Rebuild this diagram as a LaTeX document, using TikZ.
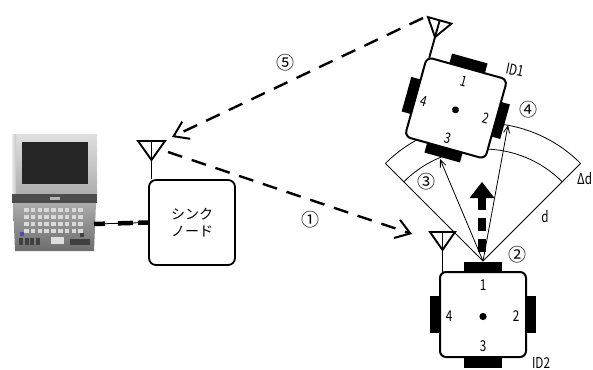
\documentclass[tikz,border=0pt]{standalone}
\usepackage{fontspec}
\usepackage{graphicx}
\setmainfont{Noto Sans CJK JP}
\usetikzlibrary{arrows.meta,calc}
\newcommand\nw[1]{\scalebox{0.78}[1]{#1}}

\tikzset{
  radio/.style={line width=2.4pt, dash pattern=on 15pt off 10pt,
    -{Straight Barb[length=14pt,width=19pt,line width=2pt]}},
  thinarrow/.style={line width=0.8pt, -{Straight Barb[length=7pt,width=6pt,line width=0.8pt]}},
  numlabel/.style={font=\fontsize{15}{15}\selectfont, inner sep=0pt},
  circled/.style={font=\fontsize{18}{18}\selectfont, inner sep=0pt},
  antenna/.style={line width=1.9pt, line join=miter},
  robot/.pic={
    % antenna on the top-left corner
    \draw[antenna] (-40.5,-42.5) -- (-40.5,-82.5);
    \draw[antenna] (-53,-82.5) -- (-28,-82.5) -- (-40.5,-64.5) -- cycle;
    % four sensor bars
    \fill (-19,-53) rectangle (19,-42.5);
    \fill (-19,42.5) rectangle (19,53);
    \fill (-53,-18.5) rectangle (-43,18.5);
    \fill (43,-18.5) rectangle (52.5,18.5);
    % body
    \draw[line width=2pt, fill=white, rounded corners=6pt] (-43,-42.5) rectangle (43,42.5);
    \fill (0,2) circle (3.6);
    \node[numlabel] (-s1) at (0,-29) {\nw{1}};
    \node[numlabel] (-s2) at (33,2) {\nw{2}};
    \node[numlabel] (-s3) at (0,32) {\nw{3}};
    \node[numlabel] (-s4) at (-34,2) {\nw{4}};
  }
}

\begin{document}
\begin{tikzpicture}[x=1pt,y=-1pt]
\useasboundingbox (0,0) rectangle (593,369);

% ---------- laptop ----------
\shade[top color=gray!25, bottom color=gray!65] (12,134) rectangle (97,196);
\shade[left color=gray!15, right color=gray!45] (12,134) rectangle (16,196);
\fill[black!85] (22,142) rectangle (88,184);
\fill[black!70] (12,194) rectangle (97,203);
\fill[gray!60] (50,197) rectangle (60,200);
\shade[top color=gray!65, bottom color=gray!85!black] (13,203) -- (96,203) -- (94,251) -- (15,251) -- cycle;
\foreach \r in {0,...,3}
  \foreach \c in {0,...,8}
    \fill[gray!30] ({24+\c*6.8},{208+\r*7}) rectangle ++(4.6,4.2);
\fill[blue!40!gray] (20,232) rectangle ++(4,4);
\foreach \c in {0,...,3}
  \fill[black!75] ({19+\c*5.5},238) rectangle ++(4,7);
\fill[gray!25] (51,237) rectangle (64,244);
\fill[black!75] (70,239) rectangle (90,245);
\fill[black!75] (80,233) rectangle (84,237);
\coordinate (pc) at (94,224);

% ---------- sink node ----------
\node[draw, line width=1.8pt, rounded corners=7pt, minimum width=86pt, minimum height=85pt,
      align=center, font=\fontsize{14}{17}\selectfont] (sink) at (192,222.5) {シンク\\ノード};
\coordinate (sant) at (151.5,141);
\draw[antenna] (sant) -- (sant |- sink.north);
\draw[antenna] (138,141) -- (165,141) -- (151.5,160) -- cycle;

% cable between laptop and sink
\draw[line width=0.8pt] (pc) -- (sink.west);
\draw[line width=4.5pt, dash pattern=on 11pt off 13pt on 15pt off 5pt on 12pt] (pc) -- (sink.west);

% ---------- distance sector ----------
\coordinate (apex) at (483,261);
\draw[line width=0.8pt] ($(apex)+(-135:138)$) -- (apex) -- ($(apex)+(-45:138)$);
\draw[line width=0.8pt] ($(apex)+(-135:138)$) arc[start angle=-135, end angle=-45, radius=138];
\draw[line width=0.8pt] ($(apex)+(-135:112)$) arc[start angle=-135, end angle=-45, radius=112];

% ---------- robots ----------
\pic (id1) [rotate=-15.6, scale=0.97, transform shape] at (456,108) {robot};
\node[rotate=-12, numlabel] (id1lab) at (515,70) {\nw{\textit{ID1}}};
\pic (id2) at (483,314.5) {robot};
\node[numlabel, anchor=north] (id2lab) at (541,357) {\nw{ID2}};

% measurement rays to sensors 3 and 4 of ID1
\coordinate (s3hit) at (440,159);
\coordinate (s4hit) at (508,125);
\draw[thinarrow] (apex) -- (s3hit);
\draw[thinarrow] (apex) -- (s4hit);

% heading arrow of ID2
\draw[line width=8pt, dash pattern=on 13pt off 8pt] (482,252) -- (482,198);
\fill (482,182) -- (494.5,198) -- (469.5,198) -- cycle;

% ---------- radio links ----------
\coordinate (tx1) at (168,152);
\coordinate (rx1) at (412,234);
\coordinate (tx5) at (423,18);
\coordinate (rx5) at (172,137);
\draw[radio] (tx1) -- (rx1);
\draw[radio] (tx5) -- (rx5);

% ---------- labels ----------
\node[circled] (c1) at (310,220) {①};
\node[circled] (c2) at (517,255) {②};
\node[circled] (c3) at (426,182) {③};
\node[circled] (c4) at (528,110) {④};
\node[circled] (c5) at (285,63) {⑤};
\node[numlabel] (dlab) at (545,217) {\nw{d}};
\node[numlabel, anchor=west] (ddlab) at (577,179) {\nw{Δd}};
\end{tikzpicture}
\end{document}
